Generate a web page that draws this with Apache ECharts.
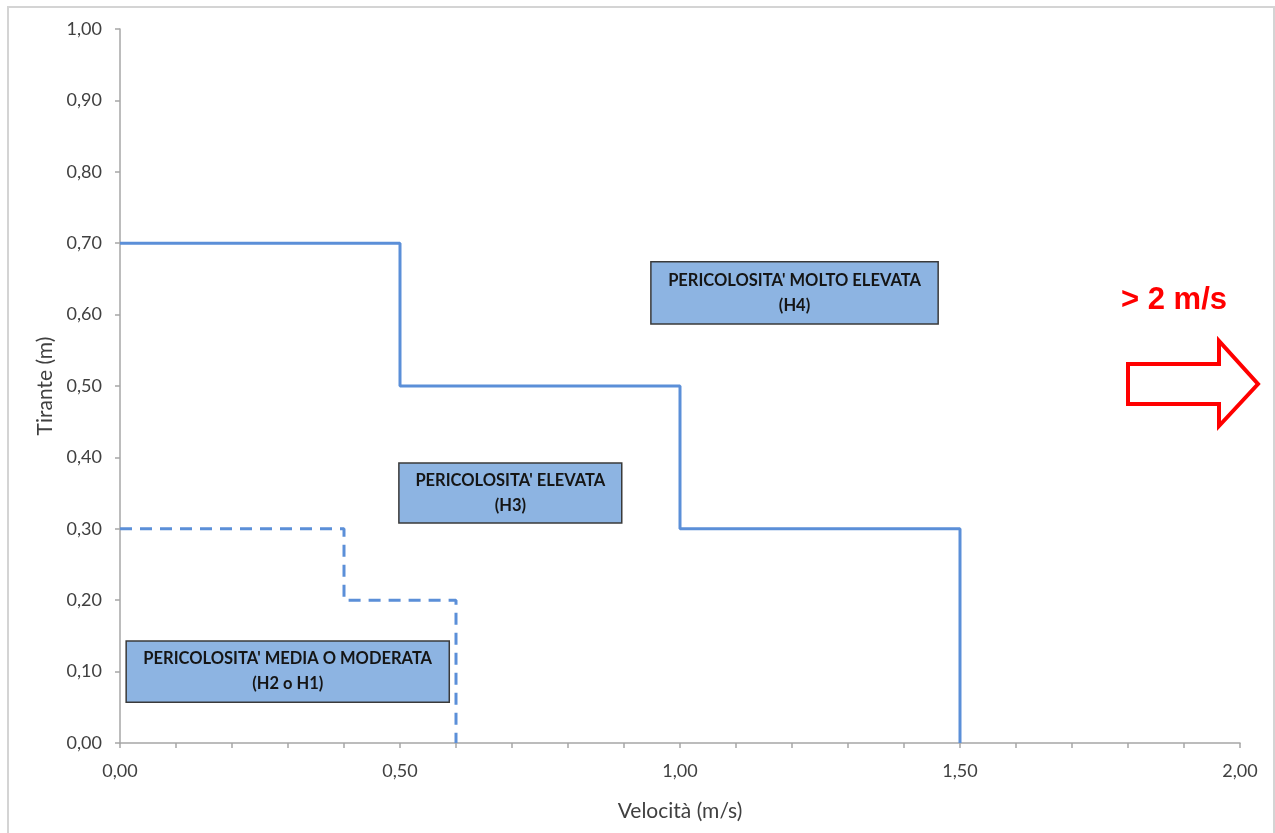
<!DOCTYPE html>
<html>
<head>
<meta charset="utf-8">
<script src="https://cdn.jsdelivr.net/npm/echarts@6/dist/echarts.min.js"></script>
<style>
html,body{margin:0;padding:0;background:#fff;}
#chart{width:1275px;height:833px;}
</style>
</head>
<body>
<div id="chart"></div>
<script>
// ---- data ----
const solidX = [0, 0.5, 0.5, 1.0, 1.0, 1.5, 1.5];
const solidY = [0.7, 0.7, 0.5, 0.5, 0.3, 0.3, 0];
const dashX = [0, 0.4, 0.4, 0.6, 0.6];
const dashY = [0.3, 0.3, 0.2, 0.2, 0];
const zoneLabels = ["PERICOLOSITA' MOLTO ELEVATA\n(H4)", "PERICOLOSITA' ELEVATA\n(H3)", "PERICOLOSITA' MEDIA O MODERATA\n(H2 o H1)"];
const zoneX0 = [0.948, 0.498, 0.011];
const zoneX1 = [1.461, 0.896, 0.588];
const zoneY0 = [0.587, 0.308, 0.057];
const zoneY1 = [0.674, 0.392, 0.143];
const xTitle = 'Velocità (m/s)';
const yTitle = 'Tirante (m)';
const noteText = '> 2 m/s';

const zip = (a, b) => a.map((v, i) => [v, b[i]]);
const fmt = v => v.toFixed(2).replace('.', ',');

const chart = echarts.init(document.getElementById('chart'), null, {renderer: 'canvas'});
const axisColor = '#A6A6A6';
const labelColor = '#404040';
const font = 'Lato, "Open Sans", sans-serif';

chart.setOption({
  animation: false,
  grid: {left: 120, right: 35, top: 29, bottom: 90},
  xAxis: {
    type: 'value', min: 0, max: 2, interval: 0.5,
    name: xTitle, nameLocation: 'middle', nameGap: 58,
    nameTextStyle: {color: labelColor, fontSize: 21, fontFamily: font},
    axisLine: {show: true, lineStyle: {color: axisColor, width: 1.5}},
    axisTick: {show: true, length: 5, lineStyle: {color: axisColor, width: 1.5}},
    minorTick: {show: true, splitNumber: 5, length: 5, lineStyle: {color: axisColor, width: 1.5}},
    splitLine: {show: false},
    axisLabel: {formatter: fmt, color: labelColor, fontSize: 18, fontFamily: font, margin: 19}
  },
  yAxis: {
    type: 'value', min: 0, max: 1, interval: 0.1,
    name: yTitle, nameLocation: 'middle', nameGap: 63,
    nameTextStyle: {color: labelColor, fontSize: 21, fontFamily: font},
    axisLine: {show: true, lineStyle: {color: axisColor, width: 1.5}},
    axisTick: {show: true, length: 5, lineStyle: {color: axisColor, width: 1.5}},
    splitLine: {show: false},
    axisLabel: {formatter: fmt, color: labelColor, fontSize: 18, fontFamily: font, margin: 18}
  },
  series: [
    {
      type: 'line', data: zip(solidX, solidY), showSymbol: false, symbol: 'none',
      lineStyle: {color: '#5B8FD8', width: 3}, z: 3
    },
    {
      type: 'line', data: zip(dashX, dashY), showSymbol: false, symbol: 'none',
      lineStyle: {color: '#5B8FD8', width: 3, type: [12, 8]}, z: 3,
      markArea: {
        silent: true,
        itemStyle: {color: '#8DB4E2', borderColor: '#3A3A3A', borderWidth: 1.5},
        label: {
          show: true, position: 'inside', align: 'center',
          color: '#151515', fontWeight: 'bold', fontSize: 16.5, fontFamily: font, lineHeight: 25
        },
        data: zoneLabels.map((n, i) => [
          {name: n, coord: [zoneX0[i], zoneY1[i]]},
          {coord: [zoneX1[i], zoneY0[i]]}
        ])
      }
    }
  ],
  graphic: [
    {type: 'rect', shape: {x: 8, y: 7, width: 1266, height: 840}, style: {fill: 'none', stroke: '#D4D4D4', lineWidth: 2}, silent: true, z: -1},
    {type: 'text', left: 1121, top: 285, style: {text: noteText, fill: '#FF0000', font: 'bold 31px "Liberation Sans", Arial, sans-serif'}},
    {type: 'polygon', shape: {points: [[1128, 364], [1219, 364], [1219, 341], [1258, 384], [1219, 426], [1219, 404], [1128, 404]]},
     style: {fill: '#fff', stroke: '#FF0000', lineWidth: 4, lineJoin: 'miter'}}
  ]
});
</script>
</body>
</html>
